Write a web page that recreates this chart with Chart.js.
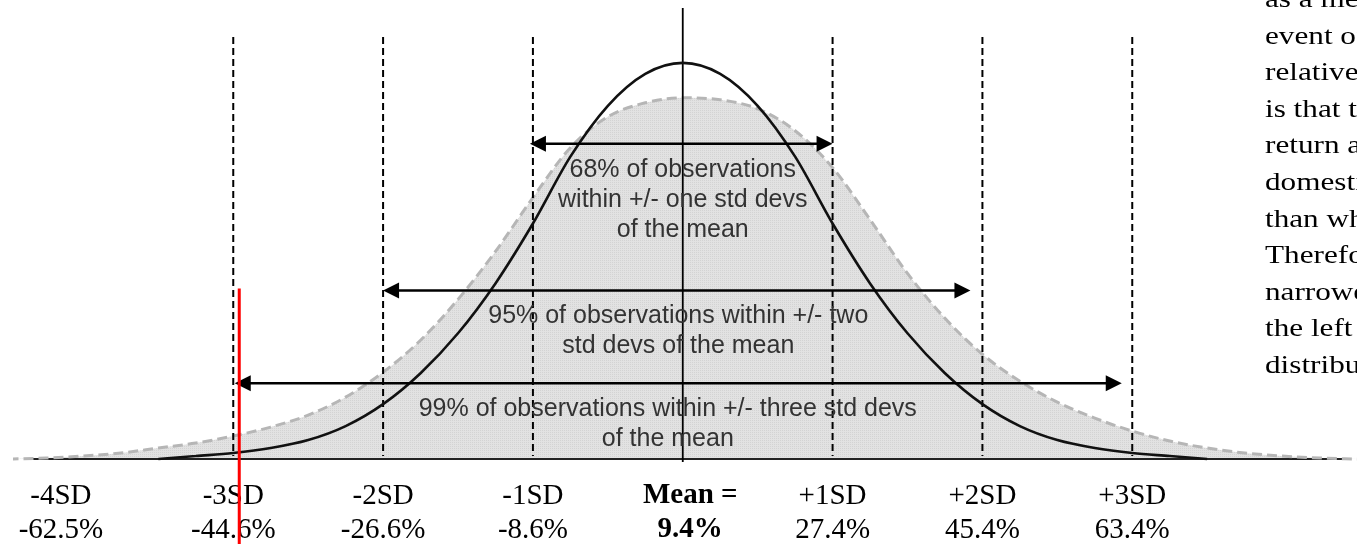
<!DOCTYPE html>
<html>
<head>
<meta charset="utf-8">
<script src="https://cdn.jsdelivr.net/npm/chart.js@4.4.1/dist/chart.umd.min.js"></script>
<style>
  html, body { margin: 0; padding: 0; background: #fff; overflow: hidden; }
  #wrap { position: relative; width: 1357px; height: 562px; overflow: hidden; }
  #note {
    position: absolute; left: 1265px; top: -19px;
    transform: scaleX(1.2); transform-origin: 0 0;
    font-family: "Liberation Serif", "Times New Roman", serif; font-size: 26px;
    line-height: 36.6px; color: #000; white-space: nowrap;
  }
</style>
</head>
<body>
<div id="wrap">
  <canvas id="bell"></canvas>
  <div id="note">as a measure<br>event of<br>relative<br>is that the<br>return a<br>domestic<br>than what<br>Therefore<br>narrower<br>the left<br>distribution</div>
</div>
<script>
// x = standard deviations from the mean, y = curve height
const sdSteps = [-4.5, -4.25, -4, -3.75, -3.5, -3.25, -3, -2.75, -2.5, -2.25, -2, -1.75, -1.5, -1.25, -1, -0.75, -0.5, -0.25, 0,
  0.25, 0.5, 0.75, 1, 1.25, 1.5, 1.75, 2, 2.25, 2.5, 2.75, 3, 3.25, 3.5, 3.75, 4, 4.25, 4.5];
const actualDist = [0, 1, 3, 6, 11, 16, 23, 32, 44, 62, 87, 119, 160, 208, 262, 312, 343, 357, 362,
  360, 351, 329, 292, 240, 186, 141, 105, 78, 57, 41, 28, 18, 11, 6, 3, 1, 0];

const normalSteps = [-3.5, -3.25, -3, -2.75, -2.5, -2.25, -2, -1.75, -1.5, -1.25, -1, -0.75, -0.5, -0.25, 0,
  0.25, 0.5, 0.75, 1, 1.25, 1.5, 1.75, 2, 2.25, 2.5, 2.75, 3, 3.25, 3.5];
const normalDist = [0, 3, 6, 11, 19, 33, 55, 86, 126, 176, 236, 303, 354, 386, 397,
  386, 354, 303, 236, 176, 126, 86, 55, 33, 19, 11, 6, 3, 0];

const sdLines = [-3, -2, -1, 1, 2, 3];
const tickPositions = [-4.15, -3, -2, -1, 0.05, 1, 2, 3];
const sdLabels = ['-4SD', '-3SD', '-2SD', '-1SD', 'Mean =', '+1SD', '+2SD', '+3SD'];
const returnLabels = ['-62.5%', '-44.6%', '-26.6%', '-8.6%', '9.4%', '27.4%', '45.4%', '63.4%'];

// the 68 / 95 / 99 bands
const bandText = [
  ['68% of observations', 'within +/- one std devs', 'of the mean'],
  ['95% of observations within +/- two', 'std devs of the mean'],
  ['99% of observations within +/- three std devs', 'of the mean']
];
const bandFrom = [-1.02, -2, -2.99];
const bandTo = [1, 1.92, 2.93];
const bandLevel = [316, 169, 76];

const redLineSd = -2.96;

// where the band texts sit (x in sd, y of first line)
const bandTextPos = [
  { x: 0, y: 290 },
  { x: -0.03, y: 143 },
  { x: -0.1, y: 50 }
];

function greyTexture() {
  const c = document.createElement('canvas');
  c.width = 2; c.height = 2;
  const g = c.getContext('2d');
  g.fillStyle = '#e2e2e2';
  g.fillRect(0, 0, 2, 2);
  g.fillStyle = '#d3d3d3';
  g.fillRect(0, 0, 1, 1);
  return g.createPattern(c, 'repeat');
}

const actualPts = sdSteps.map((s, i) => ({ x: s, y: actualDist[i] }));
const normalPts = normalSteps.map((s, i) => ({ x: s, y: normalDist[i] }));

const datasets = [
  {
    label: 'red', order: 0, clip: false,
    data: [{ x: redLineSd, y: 171 }, { x: redLineSd, y: -100 }],
    borderColor: '#ff0000', borderWidth: 3, pointRadius: 0
  },
  {
    label: 'normal', order: 1,
    data: normalPts, borderColor: '#111', borderWidth: 2.6,
    pointRadius: 0, cubicInterpolationMode: 'monotone'
  },
  {
    label: 'mean', order: 2, clip: false,
    data: [{ x: 0, y: 452 }, { x: 0, y: -3 }],
    borderColor: '#000', borderWidth: 1.8, pointRadius: 0
  }
];
sdLines.forEach(s => {
  datasets.push({
    label: 'sd' + s, order: 3,
    data: [{ x: s, y: 423 }, { x: s, y: 3 }],
    borderColor: '#000', borderWidth: 2, borderDash: [7, 4], pointRadius: 0
  });
});
datasets.push({
  label: 'actual outline', order: 4,
  data: actualPts, borderColor: '#b6b6b6', borderWidth: 3, borderDash: [10, 5],
  pointRadius: 0, cubicInterpolationMode: 'monotone'
});
datasets.push({
  label: 'baseline', order: 5,
  data: [{ x: -4.39, y: 0 }, { x: 4.41, y: 0 }],
  borderColor: '#222', borderWidth: 2, pointRadius: 0
});
datasets.push({
  label: 'actual', order: 6,
  data: actualPts, borderWidth: 0, borderColor: 'rgba(0,0,0,0)',
  backgroundColor: greyTexture(), fill: 'origin',
  pointRadius: 0, cubicInterpolationMode: 'monotone'
});

function arrowHead(ctx, tipX, y, dir) {
  ctx.beginPath();
  ctx.moveTo(tipX, y);
  ctx.lineTo(tipX - dir * 16, y - 8);
  ctx.lineTo(tipX - dir * 16, y + 8);
  ctx.closePath();
  ctx.fill();
}

const bandPlugin = {
  id: 'bands',
  afterDatasetDraw(chart, args) {
    if (args.index !== 1) return;
    const ctx = chart.ctx;
    const xs = chart.scales.x, ys = chart.scales.y;
    ctx.save();
    ctx.strokeStyle = '#000';
    ctx.fillStyle = '#000';
    ctx.lineWidth = 2.5;
    bandFrom.forEach((from, i) => {
      const x1 = xs.getPixelForValue(from);
      const x2 = xs.getPixelForValue(bandTo[i]);
      const y = ys.getPixelForValue(bandLevel[i]);
      ctx.beginPath();
      ctx.moveTo(x1 + 10, y);
      ctx.lineTo(x2 - 10, y);
      ctx.stroke();
      arrowHead(ctx, x1, y, -1);
      arrowHead(ctx, x2, y, 1);
    });
    ctx.font = '25px "Liberation Sans", Arial, sans-serif';
    ctx.fillStyle = '#333';
    ctx.textAlign = 'center';
    ctx.textBaseline = 'middle';
    bandText.forEach((lines, i) => {
      const cx = xs.getPixelForValue(bandTextPos[i].x);
      const cy = ys.getPixelForValue(bandTextPos[i].y);
      lines.forEach((t, j) => ctx.fillText(t, cx, cy + j * 30));
    });
    ctx.restore();
  }
};

new Chart(document.getElementById('bell'), {
  type: 'line',
  data: { datasets: datasets },
  options: {
    responsive: true,
    maintainAspectRatio: false,
    animation: false,
    layout: { padding: { left: 13, right: 0, top: 8, bottom: 0 } },
    plugins: { legend: { display: false }, tooltip: { enabled: false } },
    elements: { line: { tension: 0 } },
    scales: {
      x: {
        type: 'linear', min: -4.47, max: 4.5,
        grid: { display: false, drawTicks: false },
        border: { display: false },
        afterBuildTicks: (scale) => {
          scale.ticks = tickPositions.map(v => ({ value: v }));
        },
        ticks: {
          autoSkip: false, maxRotation: 0, padding: 15, color: '#000',
          callback: (value, index) => [sdLabels[index], returnLabels[index]],
          font: (ctx) => ({
            family: '"Liberation Serif", "Times New Roman", serif',
            size: 29,
            weight: ctx.index === 4 ? 'bold' : 'normal',
            lineHeight: '34px'
          })
        }
      },
      y: {
        type: 'linear', min: -5, max: 452, display: false
      }
    }
  },
  plugins: [bandPlugin]
});
</script>
</body>
</html>
